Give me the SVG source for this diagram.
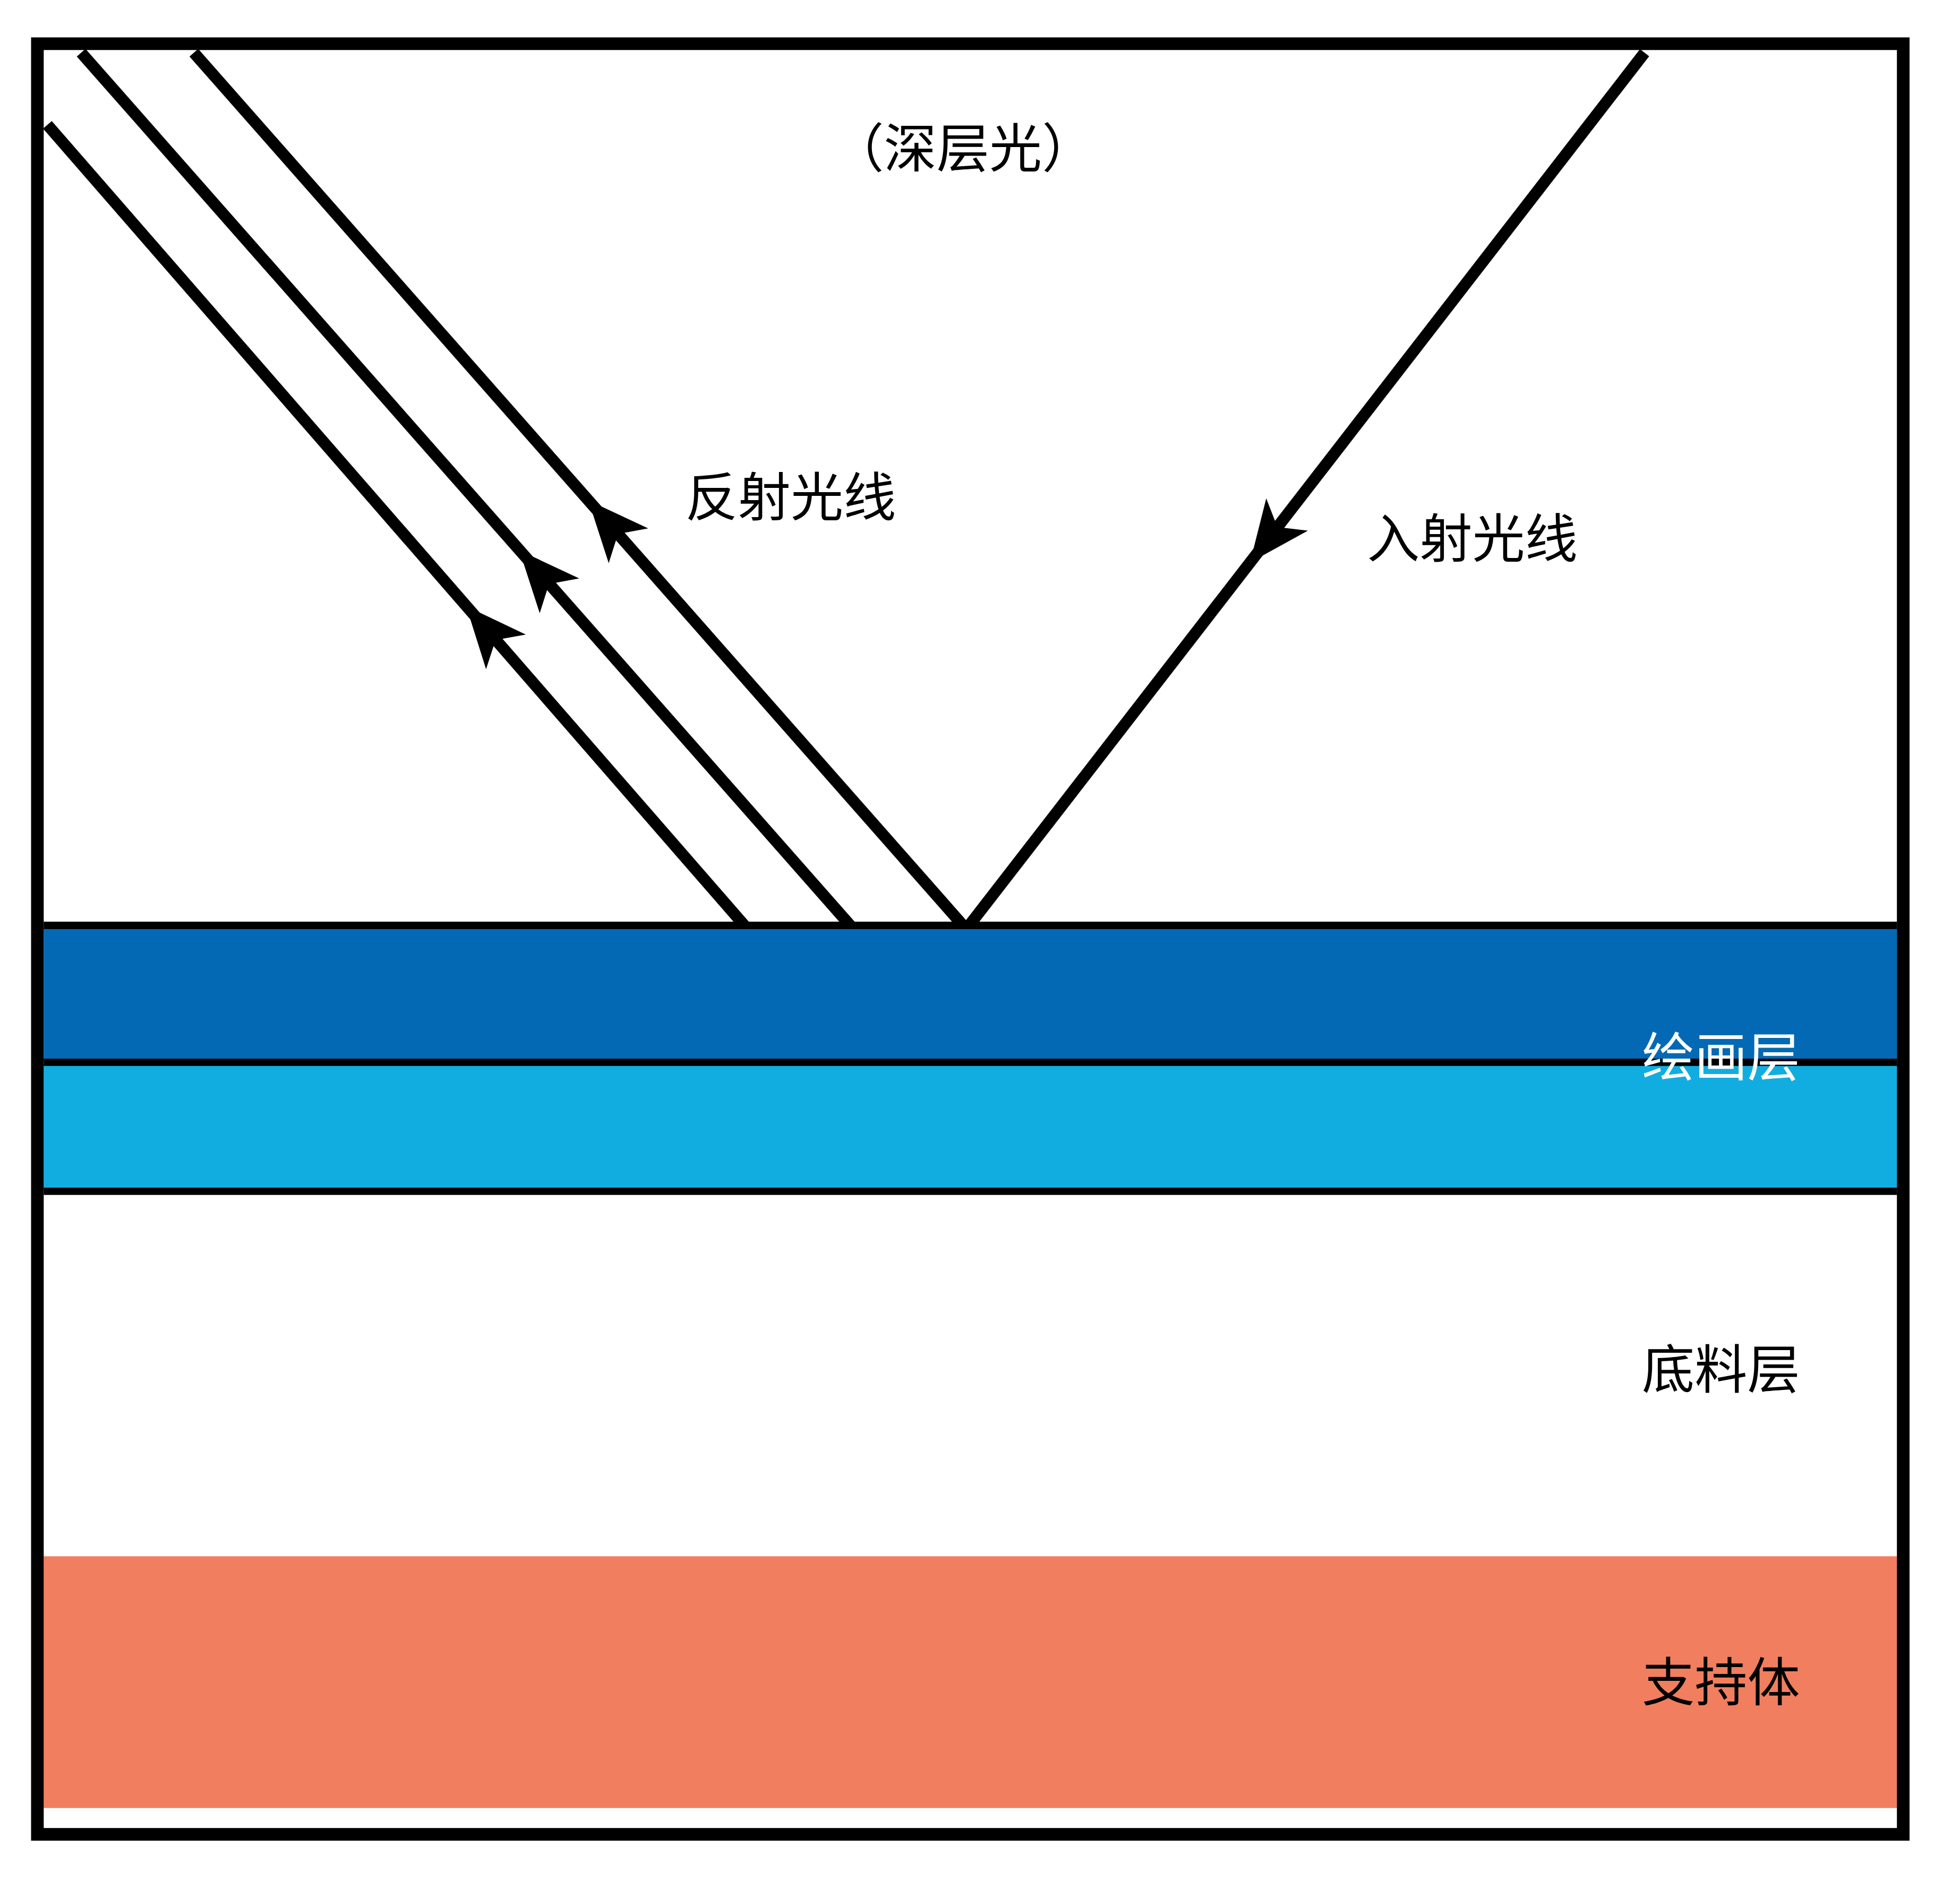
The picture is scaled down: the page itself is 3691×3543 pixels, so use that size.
<svg xmlns="http://www.w3.org/2000/svg" width="3691" height="3543" viewBox="0 0 3691 3543">
<style>
.ray{stroke:#000;stroke-width:22;fill:none}
.hl{stroke:#000;stroke-width:14}
text{font-family:"Liberation Serif","Noto Sans CJK SC",serif;font-size:100px;fill:#000}
</style>
<defs><polygon id="ah" points="0,0 -115,-50 -85,0 -115,50" fill="#000"/></defs>
<rect width="3691" height="3543" fill="#fff"/>
<g transform="scale(0.992)">
<g id="layers">
<rect x="83" y="1762" width="3518" height="252" fill="#0369b5"/>
<rect x="83" y="2020" width="3518" height="236" fill="#12ade0"/>
<rect x="83" y="2955" width="3518" height="478" fill="#f17e5e"/>
<line class="hl" x1="83" y1="1757" x2="3601" y2="1757"/>
<line class="hl" x1="83" y1="2017" x2="3601" y2="2017"/>
<line class="hl" x1="83" y1="2262" x2="3601" y2="2262"/>
</g>
<g id="frame"><rect x="71" y="83" width="3542" height="3400" fill="none" stroke="#000" stroke-width="24"/></g>
<g id="connectors">
<line class="ray" x1="3122" y1="100" x2="1840" y2="1757"/>
<line class="ray" x1="1828" y1="1757" x2="368" y2="100"/>
<line class="ray" x1="1614" y1="1757" x2="154" y2="100"/>
<line class="ray" x1="1413" y1="1757" x2="90" y2="237"/>
<use href="#ah" transform="translate(1117,950) rotate(-131.4)"/>
<use href="#ah" transform="translate(986,1045) rotate(-131.4)"/>
<use href="#ah" transform="translate(885,1151) rotate(-131)"/>
<use href="#ah" transform="translate(2373,1068) rotate(127.7)"/>
</g>
<g id="labels">
<text x="1828" y="318" text-anchor="middle" font-size="95">（深层光）</text>
<text x="1301" y="980">反射光线</text>
<text x="2595" y="1058">入射光线</text>
<text x="3117" y="2043" style="fill:#fff">绘画层</text>
<text x="3117" y="2636">底料层</text>
<text x="3117" y="3230">支持体</text>
</g>
</g>
</svg>
